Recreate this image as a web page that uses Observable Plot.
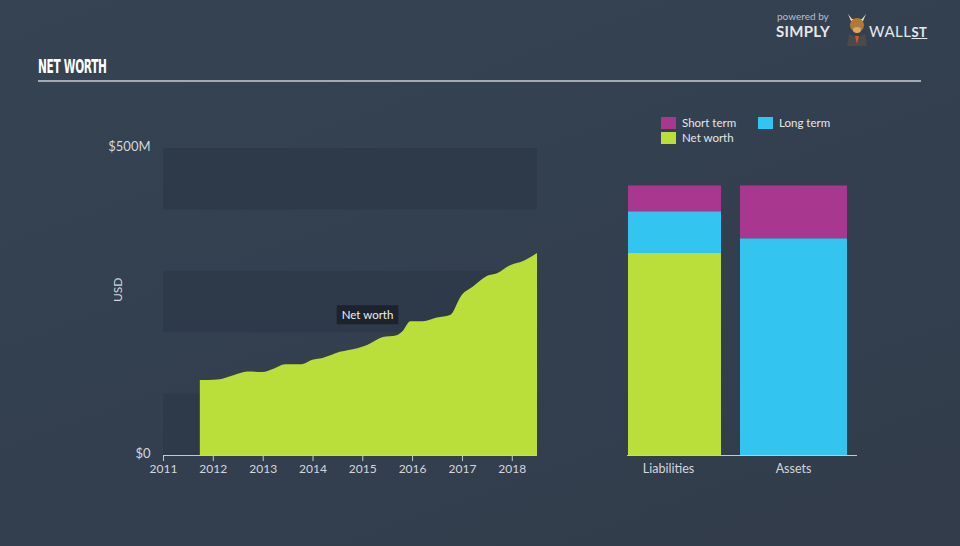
<!DOCTYPE html>
<html>
<head>
<meta charset="utf-8">
<script src="https://cdn.jsdelivr.net/npm/d3@7"></script>
<script src="https://cdn.jsdelivr.net/npm/@observablehq/plot@0.6"></script>
<style>
  html, body { margin: 0; padding: 0; }
  body { width: 960px; height: 546px; overflow: hidden; }
  #page { position: relative; width: 960px; height: 546px;
    background: linear-gradient(160deg, #354353 0%, #333f4f 60%, #323c4a 100%);
    font-family: Lato, "Open Sans", sans-serif; }
  .abs { position: absolute; }
  #title { left: 38px; top: 55px; color: #ffffff; font-family: "DejaVu Sans Condensed", "DejaVu Sans", sans-serif;
    font-stretch: condensed; font-weight: bold; font-size: 19px; letter-spacing: -0.5px;
    transform: scaleX(0.62); transform-origin: 0 0; white-space: nowrap; }
  #rule { left: 38px; top: 80px; width: 883px; height: 2px; background: #a3aab3; }
  #powered { left: 777px; top: 10px; color: #b9bec5; font-size: 10px; }
  #simply { left: 776px; top: 22px; color: #e6e8ea; font-size: 15px; font-weight: bold; letter-spacing: 0.3px; }
  #wall { left: 869px; top: 22px; color: #e6e8ea; font-size: 15px; letter-spacing: 0.5px; }
  #wall u { font-weight: bold; font-size: 13px; }
  #bull { left: 845px; top: 12px; width: 24px; height: 34px; }
  .leg { font-size: 11.5px; color: #e4e7ea; display: flex; align-items: center; }
  .sw { width: 15px; height: 12px; margin-right: 6px; }
  svg { position: absolute; }
</style>
</head>
<body>
<div id="page">
  <div id="title" class="abs">NET WORTH</div>
  <div id="rule" class="abs"></div>
  <div id="powered" class="abs">powered by</div>
  <div id="simply" class="abs">SIMPLY</div>
  <svg id="bull" class="abs" viewBox="0 0 24 34">
    <path d="M3 2 L6 9 L18 9 L21 2 L17 7 L7 7 Z" fill="#e8e0d0"/>
    <ellipse cx="12" cy="13" rx="7" ry="7" fill="#b07a35"/>
    <ellipse cx="12" cy="18" rx="4" ry="3" fill="#d8a860"/>
    <path d="M2 34 L4 22 L12 26 L20 22 L22 34 Z" fill="#4a4a4a"/>
    <path d="M10 24 L12 32 L14 24 Z" fill="#e05020"/>
  </svg>
  <div id="wall" class="abs">WALL<u>ST</u></div>
  <div class="abs leg" style="left:661px; top:116px;"><div class="sw" style="background:#a8388f"></div>Short term</div>
  <div class="abs leg" style="left:758px; top:116px;"><div class="sw" style="background:#33c4ef"></div>Long term</div>
  <div class="abs leg" style="left:661px; top:131px;"><div class="sw" style="background:#bbdf3a"></div>Net worth</div>
</div>
<script>
// ---- Data ----
const netDates = ["2011-09-28","2012-02-05","2012-05-31","2012-09-10","2012-12-31","2013-03-15","2013-06-15",
  "2013-10-15","2013-12-31","2014-03-15","2014-07-20","2014-11-25","2015-02-05","2015-06-01","2015-09-10",
  "2015-10-20","2015-12-20","2016-03-20","2016-07-01","2016-10-05","2016-12-31","2017-03-20","2017-07-05",
  "2017-09-15","2017-12-20","2018-03-25","2018-07-05"];
const netValues = [122,123,130,136,135,140,148,148,155,158,168,174,179,192,195,201,218,218,224,228,261,274,292,296,309,316,329];
const yearTicks = ["2011","2012","2013","2014","2015","2016","2017","2018"];
const yTickValues = [0, 500];
const yTickLabels = ["$0", "$500M"];
const bandStarts = [0, 200, 400];
const bandSize = 100;

const categories = ["Liabilities", "Assets"];
const seriesNames = ["Short term", "Long term", "Net worth"];
const seriesColors = ["#a8388f", "#33c4ef", "#bbdf3a"];
const shortTerm = [42, 86];
const longTerm = [68, 353];
const netWorth = [329, 0];
const tooltipLabel = "Net worth";
const tooltipDate = "2015-02-05";

// ---- Build ----
const parse = d3.utcParse("%Y-%m-%d");
const net = netDates.map((d, i) => ({date: parse(d), value: netValues[i]}));
const xStart = parse("2011-01-01");
const xEnd = parse("2018-07-05");
const tickDates = yearTicks.map(y => parse(y + "-01-01"));
const tipPoint = net.filter(d => +d.date === +parse(tooltipDate));

const page = document.getElementById("page");
const txt = "#d3d7dc";

const left = Plot.plot({
  width: 560, height: 390,
  marginLeft: 163, marginRight: 23, marginTop: 48, marginBottom: 35,
  style: {background: "transparent", color: txt, fontFamily: "Lato, 'Open Sans', sans-serif", fontSize: "12px", overflow: "visible"},
  x: {type: "utc", domain: [xStart, xEnd]},
  y: {domain: [0, 500]},
  marks: [
    Plot.rect(bandStarts, {x1: () => xStart, x2: () => xEnd, y1: d => d, y2: d => d + bandSize, fill: "#2e3a4a"}),
    Plot.areaY(net, {x: "date", y: "value", curve: "monotone-x", fill: "#bbdf3a"}),
    Plot.ruleY([0], {stroke: "#c3c9d1", strokeWidth: 1}),
    Plot.axisX({ticks: tickDates, tickFormat: d3.utcFormat("%Y"), tickSize: 6, tickPadding: 3, stroke: "#c3c9d1", label: null}),
    Plot.axisY({ticks: yTickValues, tickFormat: d => yTickLabels[yTickValues.indexOf(d)], tickSize: 0, tickPadding: 13, dy: -2, label: null, fontSize: 13}),
    Plot.text(["USD"], {frameAnchor: "left", rotate: -90, dx: -45, fill: txt, fontSize: 12}),
    Plot.text(tipPoint, {x: "date", y: "value", text: () => tooltipLabel, dy: -30, fill: "#eef0f2", fontSize: 11.5, className: "tip"})
  ]
});
left.style.left = "0px"; left.style.top = "100px";
page.appendChild(left);

// tooltip box behind its label
const tipText = left.querySelector(".tip text");
if (tipText) {
  const b = tipText.getBBox();
  const r = document.createElementNS("http://www.w3.org/2000/svg", "rect");
  r.setAttribute("x", b.x - 5); r.setAttribute("y", b.y - 3);
  r.setAttribute("width", b.width + 10); r.setAttribute("height", b.height + 6);
  r.setAttribute("fill", "#1c232d");
  if (tipText.getAttribute("transform")) r.setAttribute("transform", tipText.getAttribute("transform"));
  tipText.parentNode.insertBefore(r, tipText);
}

const table = [];
categories.forEach((c, i) => {
  table.push({category: c, series: "Net worth", value: netWorth[i]});
  table.push({category: c, series: "Long term", value: longTerm[i]});
  table.push({category: c, series: "Short term", value: shortTerm[i]});
});

const right = Plot.plot({
  width: 400, height: 390,
  marginLeft: 67, marginRight: 103, marginTop: 48, marginBottom: 35,
  style: {background: "transparent", color: txt, fontFamily: "Lato, 'Open Sans', sans-serif", fontSize: "12px"},
  x: {domain: categories, range: [67, 287], paddingInner: 0.16, paddingOuter: 0},
  y: {domain: [0, 500]},
  color: {domain: seriesNames, range: seriesColors},
  marks: [
    Plot.barY(table, Plot.stackY({x: "category", y: "value", fill: "series", filter: d => d.category === categories[0], insetRight: 7})),
    Plot.barY(table, Plot.stackY({x: "category", y: "value", fill: "series", filter: d => d.category === categories[1], insetLeft: -7})),
    Plot.ruleY([0], {stroke: "#c3c9d1"}),
    Plot.axisX({ticks: [categories[0]], tickSize: 0, tickPadding: 9, label: null, fontSize: 12.5, dx: -10}),
    Plot.axisX({ticks: [categories[1]], tickSize: 0, tickPadding: 9, label: null, fontSize: 12.5, dx: -4}),
    Plot.axisY({ticks: [], label: null})
  ]
});
right.style.left = "560px"; right.style.top = "100px";
page.appendChild(right);
</script>
</body>
</html>
